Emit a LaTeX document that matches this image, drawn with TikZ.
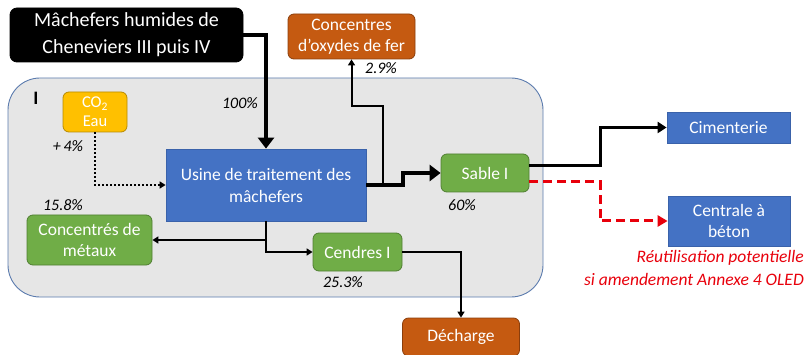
\documentclass[tikz,border=0pt]{standalone}
\usepackage{fontspec}
\setmainfont{Carlito}
\usetikzlibrary{arrows.meta}
\definecolor{cblue}{HTML}{4472C4}
\definecolor{cblueb}{HTML}{3A62AA}
\definecolor{cgreen}{HTML}{70AD47}
\definecolor{cgreenb}{HTML}{507E32}
\definecolor{corange}{HTML}{C55A11}
\definecolor{corangeb}{HTML}{8A3E0C}
\definecolor{cyellow}{HTML}{FFC000}
\definecolor{cyellowb}{HTML}{B88B00}
\definecolor{cgray}{HTML}{E6E6E6}
\definecolor{cgrayb}{HTML}{5B7BAE}
\definecolor{cred}{HTML}{E8000B}
\tikzset{
  box/.style={draw, line width=0.8pt, align=center, text=white, inner sep=0pt, font=\fontsize{17.5}{21}\selectfont},
  bluebox/.style={box, fill=cblue, draw=cblueb},
  greenbox/.style={box, fill=cgreen, draw=cgreenb, rounded corners=6pt},
  orangebox/.style={box, fill=corange, draw=corangeb, rounded corners=6pt},
  pct/.style={font=\fontsize{16}{18}\selectfont\itshape, inner sep=0pt},
  thickarrow/.style={line width=4.5pt, -{Triangle[length=11pt,width=16pt]}},
  thinarrow/.style={line width=2pt, -{Triangle[length=6pt,width=7pt]}},
}
\begin{document}
\begin{tikzpicture}[x=1pt,y=-1pt]
\useasboundingbox (0,0) rectangle (810,355);
% background group
\draw[fill=cgray, draw=cgrayb, line width=0.9pt, rounded corners=32pt] (8,78) rectangle (543,297);
\node[font=\fontsize{19}{19}\selectfont\bfseries, inner sep=0pt] (lbl) at (36,98) {I};

\node[box, fill=black, draw=black, rounded corners=7pt, minimum width=233pt, minimum height=54pt, font=\fontsize{20}{27}\selectfont] (mach) at (126.5,35) {Mâchefers humides de\\Cheneviers III puis IV};
\node[orangebox, minimum width=127pt, minimum height=45pt] (conc) at (351.5,36.5) {Concentres\\d’oxydes de fer};
\node[box, fill=cyellow, draw=cyellowb, rounded corners=6pt, minimum width=64pt, minimum height=40pt, font=\fontsize{16.5}{19}\selectfont] (co2) at (95,112) {CO\textsubscript{2}\\Eau};
\node[bluebox, minimum width=200pt, minimum height=72pt, font=\fontsize{17.5}{22}\selectfont] (usine) at (266,185) {Usine de traitement des\\mâchefers};
\node[greenbox, minimum width=88pt, minimum height=38pt] (sable) at (485,173) {Sable I};
\node[bluebox, minimum width=123pt, minimum height=31pt] (cim) at (728.5,127.5) {Cimenterie};
\node[bluebox, minimum width=122pt, minimum height=50pt] (cent) at (729,221) {Centrale à\\béton};
\node[greenbox, minimum width=125pt, minimum height=50pt] (metaux) at (89.5,240) {Concentrés de\\métaux};
\node[greenbox, minimum width=89pt, minimum height=38pt] (cendres) at (357.5,252) {Cendres I};
\node[orangebox, minimum width=117pt, minimum height=38pt] (dech) at (461,337) {Décharge};

% percentages
\node[pct] (p100) at (240,103) {100\%};
\node[pct] (p4) at (68,146) {+\,4\%};
\node[pct] (p29) at (381,68) {2.9\%};
\node[pct] (p158) at (63,205) {15.8\%};
\node[pct] (p60) at (462,205) {60\%};
\node[pct] (p253) at (343,282) {25.3\%};
\node[pct, text=cred, anchor=east, align=right, font=\fontsize{17.5}{23}\selectfont\itshape] (note) at (804,268) {Réutilisation potentielle\\si amendement Annexe 4 OLED};

% connectors
\draw[thickarrow] (mach.east) -| (usine.north);
\draw[line width=2.2pt, dash pattern=on 2pt off 2pt, -{Triangle[length=6pt,width=7pt]}] (co2.south) |- (usine.west);
\coordinate (j1) at (403,185);
\coordinate (j2) at (383,185);
\coordinate (j3) at (383,106);
\draw[thinarrow] (j2) -- (j3) -| (conc.south);
\draw[thickarrow] (usine.east) -- (j1) |- (sable.west);
\coordinate (s1) at (600,166);
\coordinate (s2) at (600,182);
\draw[line width=3pt, -{Triangle[length=9pt,width=11pt]}] ([yshift=7pt]sable.east) -- (s1) |- (cim.west);
\draw[line width=3pt, cred, dash pattern=on 9pt off 5pt, -{Triangle[length=10pt,width=11pt]}] ([yshift=-9pt]sable.east) -- (s2) |- (cent.west);
\coordinate (j4) at (266,240);
\draw[thinarrow] (usine.south) |- (cendres.west);
\draw[thinarrow] (j4) -- (metaux.east);
\draw[thinarrow] (cendres.east) -| (dech.north);
\end{tikzpicture}
\end{document}
